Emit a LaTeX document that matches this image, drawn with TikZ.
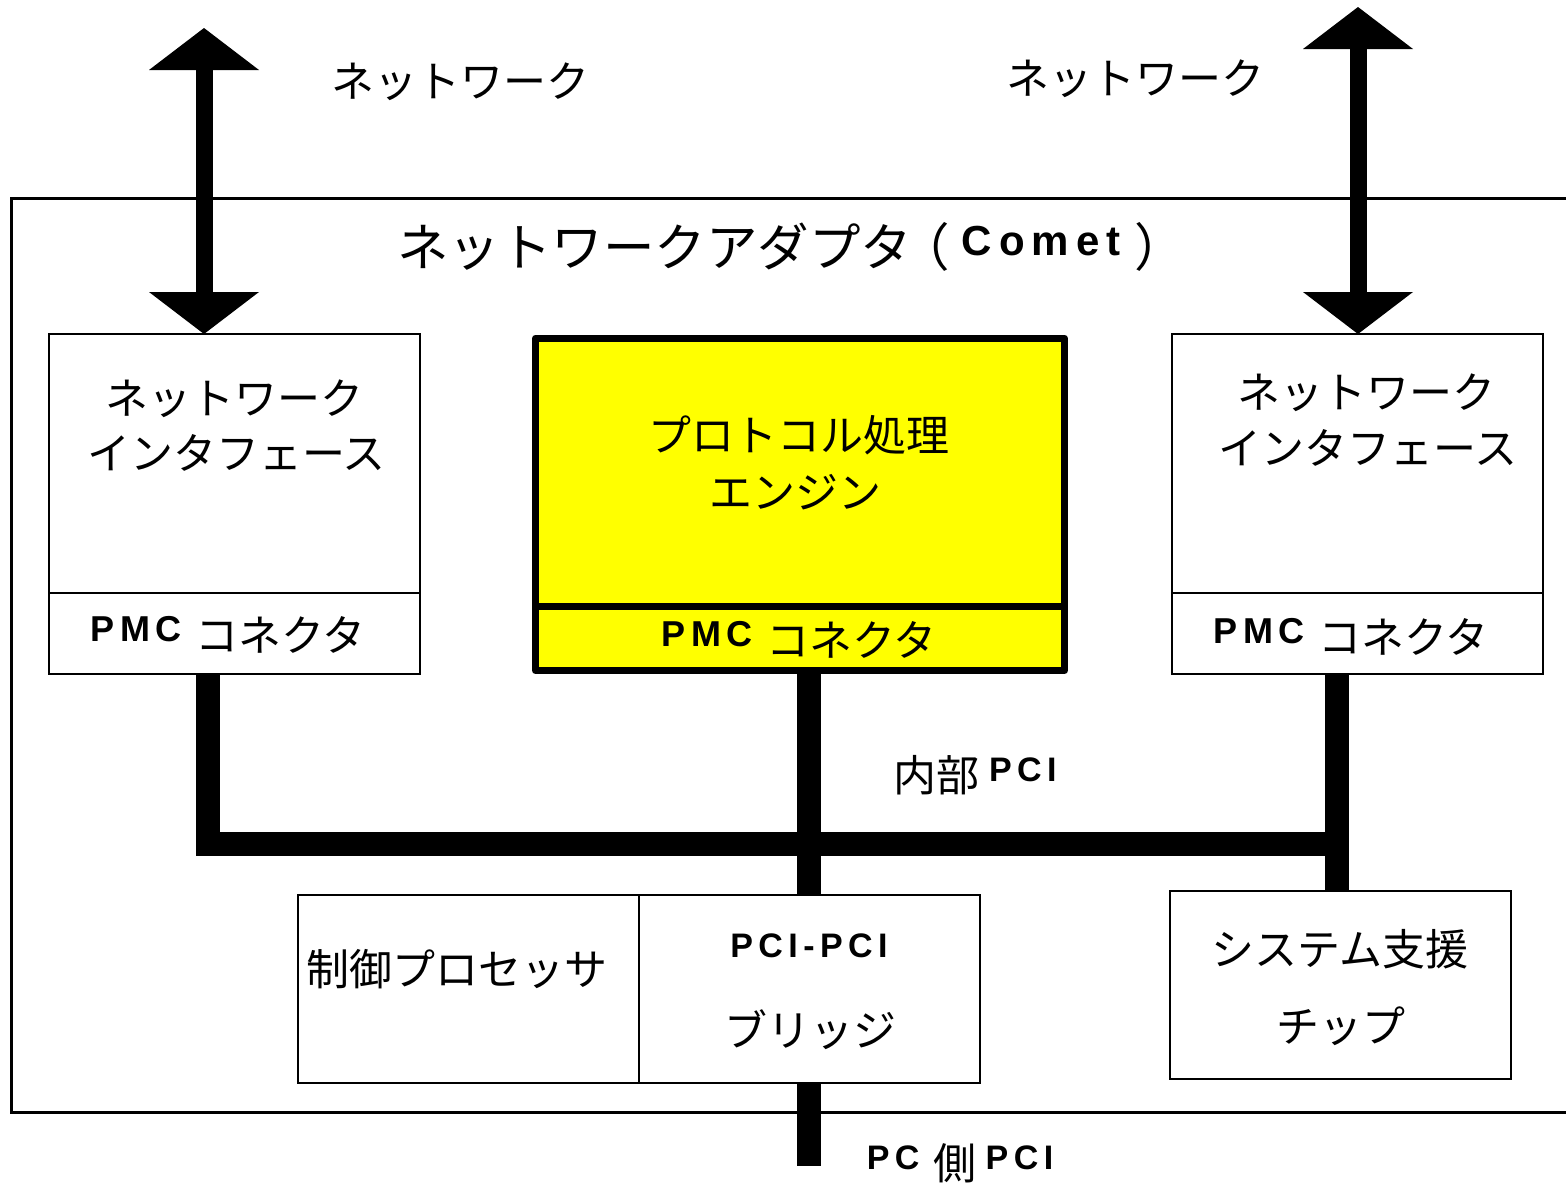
\documentclass[tikz,border=0pt]{standalone}
\usepackage{fontspec}
\setmainfont{Noto Sans CJK JP}
\newfontfamily\latsp[LetterSpace=16]{Liberation Sans}
\newfontfamily\latti[LetterSpace=17]{Liberation Sans}
\usetikzlibrary{arrows.meta,fit}
\definecolor{engyellow}{RGB}{255,255,0}
\newcommand\latr[2]{\raisebox{9.5pt}{\latsp\bfseries\fontsize{#1}{#1}\selectfont #2}}
\tikzset{
  framepath/.style={line width=3pt},
  blk/.style={draw, fill=white, line width=2.5pt, inner sep=0pt, outer sep=0pt},
  ylw/.style={draw, fill=engyellow, line width=7pt, line join=round, inner sep=0pt, outer sep=0pt},
  geom/.style={inner sep=0pt, outer sep=0pt},
  bus/.style={line width=24pt},
  netarrow/.style={line width=17pt,
    {Triangle[width=110pt,length=42pt,line width=0pt]}-{Triangle[width=110pt,length=42pt,line width=0pt]}},
  jp/.style={font=\fontsize{43}{50}\selectfont, inner sep=0pt, anchor=base},
  jpt/.style={font=\fontsize{51.5}{60}\selectfont, inner sep=0pt, anchor=base west},
  latonly/.style={font=\latsp\bfseries\fontsize{34}{38}\selectfont, inner sep=0pt, anchor=base},
}
\begin{document}
\begin{tikzpicture}[x=1pt,y=-1pt]
\useasboundingbox (0,0) rectangle (1566,1183);
% adapter frame (open to the right)
\draw[framepath] (1566,198) -- (11,198) -- (11,1112) -- (1566,1112);

% coordinates
\coordinate (netLtop) at (204,28);
\coordinate (netRtop) at (1358,7);
\coordinate (jL) at (207.5,843.5);
\coordinate (jM) at (809,843.5);
\coordinate (jR) at (1336.5,843.5);
\coordinate (pcEnd) at (809,1166);

% box geometry
\node[geom, fit={(49,334) (420,593)}] (niL) {};
\node[geom, fit={(49,593) (420,674)}] (pmcL) {};
\node[geom, fit={(535.5,338) (1064.5,606)}] (eng) {};
\node[geom, fit={(535.5,606) (1064.5,670.5)}] (pmcM) {};
\node[geom, fit={(1172,334) (1543,593)}] (niR) {};
\node[geom, fit={(1172,593) (1543,674)}] (pmcR) {};
\node[geom, fit={(298,895) (639,1083)}] (ctrl) {};
\node[geom, fit={(639,895) (980,1083)}] (brg) {};
\node[geom, fit={(1170,891) (1511,1079)}] (sys) {};

% buses
\draw[bus] (pmcL.south -| jL) -- (jL) -- (jR);
\draw[bus] (pmcR.south -| jR) -- (sys.north -| jR);
\draw[bus] (pmcM.south -| jM) -- (brg.north -| jM);
\draw[bus] (brg.south -| jM) -- (pcEnd);

% network arrows
\draw[netarrow] (netLtop) -- (netLtop |- niL.north);
\draw[netarrow] (netRtop) -- (netRtop |- niR.north);

% boxes
\draw[blk] (niL.north west) rectangle (niL.south east);
\draw[blk] (pmcL.north west) rectangle (pmcL.south east);
\draw[ylw] (eng.north west) rectangle (eng.south east);
\draw[ylw] (pmcM.north west) rectangle (pmcM.south east);
\draw[blk] (niR.north west) rectangle (niR.south east);
\draw[blk] (pmcR.north west) rectangle (pmcR.south east);
\draw[blk] (ctrl.north west) rectangle (ctrl.south east);
\draw[blk] (brg.north west) rectangle (brg.south east);
\draw[blk] (sys.north west) rectangle (sys.south east);

% texts
\node[jp] (tNetL) at (460,97) {ネットワーク};
\node[jp] (tNetR) at (1135,94) {ネットワーク};
\node[jpt] (tTitle) at (397,266) {ネットワークアダプタ\hspace{-14pt}（\hspace{12pt}\raisebox{11pt}{\latti\bfseries\fontsize{42}{42}\selectfont Comet}\hspace{14pt}）};

\node[jp] (tNiL1) at (234,414) {ネットワーク};
\node[jp] (tNiL2) at (236.5,469) {インタフェース};
\node[jp] (tNiR1) at (1366,408) {ネットワーク};
\node[jp] (tNiR2) at (1368,464) {インタフェース};
\node[jp] (tEng1) at (798.5,451) {プロトコル処理};
\node[jp] (tEng2) at (795,508) {エンジン};

\node[jp] (tPmcL) at (228,651) {\latr{36}{PMC}\hspace{4pt} コネクタ};
\node[jp] (tPmcM) at (799,656) {\latr{36}{PMC}\hspace{4pt} コネクタ};
\node[jp] (tPmcR) at (1351,653) {\latr{36}{PMC}\hspace{4pt} コネクタ};

\node[jp] (tBusIn) at (975,791) {内部 \latr{34}{PCI}};
\node[jp] (tCtrl) at (457,985) {制御プロセッサ};
\node[latonly] (tBrg1) at (809,957) {PCI-PCI};
\node[jp] (tBrg2) at (810.5,1046) {ブリッジ};
\node[jp] (tSys1) at (1340,965) {システム支援};
\node[jp] (tSys2) at (1341,1042) {チップ};
\node[jp] (tPcBus) at (960,1179) {\latr{34}{PC}\hspace{4pt} 側 \latr{34}{PCI}};
\end{tikzpicture}
\end{document}
